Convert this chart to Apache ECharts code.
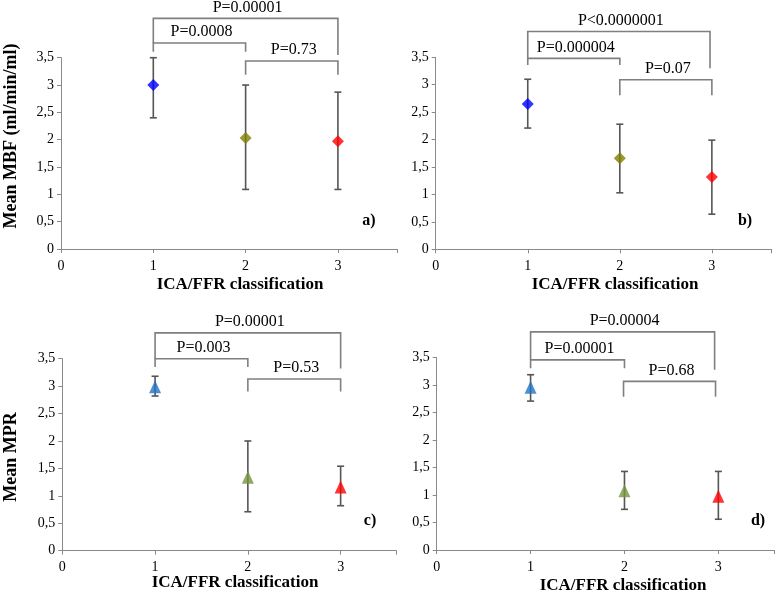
<!DOCTYPE html>
<html>
<head>
<meta charset="utf-8">
<script src="https://cdn.jsdelivr.net/npm/echarts@6/dist/echarts.min.js"></script>
<style>html,body{margin:0;padding:0;background:#fff}#c{width:778px;height:596px}</style>
</head>
<body>
<div id="c"></div>
<script>
// ---- data ----
const classes = [1, 2, 3];
const xTickLabels = ['0', '1', '2', '3'];
const yTickLabels = ['0', '0,5', '1', '1,5', '2', '2,5', '3', '3,5'];

// panel a) Mean MBF
const aMean = [3.00, 2.03, 1.97];
const aLow  = [2.40, 1.09, 1.09];
const aHigh = [3.50, 3.00, 2.87];
// panel b) Mean MBF
const bMean = [2.65, 1.66, 1.32];
const bLow  = [2.21, 1.03, 0.64];
const bHigh = [3.10, 2.28, 1.99];
// panel c) Mean MPR
const cMean = [2.99, 1.34, 1.16];
const cLow  = [2.82, 0.71, 0.82];
const cHigh = [3.18, 2.00, 1.54];
// panel d) Mean MPR
const dMean = [2.96, 1.08, 0.98];
const dLow  = [2.71, 0.74, 0.56];
const dHigh = [3.19, 1.43, 1.43];

// comparison brackets: [from, to, level, dropLeft, dropRight]
const aBrackets = [[1, 3, 4.22, 3.77, 3.55], [1, 2, 3.77, 3.61, 3.61], [2, 3, 3.44, 3.19, 3.19]];
const aPvalues  = ['P=0.00001', 'P=0.0008', 'P=0.73'];
const bBrackets = [[1, 2.98, 3.97, 3.48, 3.30], [1, 2, 3.48, 3.36, 3.36], [2, 3, 3.09, 2.81, 2.81]];
const bPvalues  = ['P<0.0000001', 'P=0.000004', 'P=0.07'];
const cBrackets = [[1, 3, 3.97, 3.50, 3.32], [1, 2, 3.50, 3.35, 3.35], [2, 3, 3.13, 2.90, 2.90]];
const cPvalues  = ['P=0.00001', 'P=0.003', 'P=0.53'];
const dBrackets = [[1, 2.96, 3.97, 3.46, 3.28], [1, 2, 3.46, 3.31, 3.31], [1.99, 2.97, 3.07, 2.79, 2.79]];
const dPvalues  = ['P=0.00004', 'P=0.00001', 'P=0.68'];

const mbfColors = ['#0000FF', '#808000', '#FF0000'];
const mprColors = ['#1F74C4', '#77933C', '#FF0000'];

// ---- build ----
const FONT = "'Liberation Serif', 'Times New Roman', serif";
const grids = [
  {left: 61,    top: 57.7,  width: 336, height: 191.3},
  {left: 435.7, top: 57.3,  width: 336, height: 192},
  {left: 62.3,  top: 358.7, width: 334, height: 192},
  {left: 436.7, top: 357.7, width: 338, height: 192.3}
];
const xMax = [3.64, 3.65, 3.6, 3.6];
const panels = [
  {mean: aMean, low: aLow, high: aHigh, br: aBrackets, p: aPvalues, colors: mbfColors, symbol: 'diamond'},
  {mean: bMean, low: bLow, high: bHigh, br: bBrackets, p: bPvalues, colors: mbfColors, symbol: 'diamond'},
  {mean: cMean, low: cLow, high: cHigh, br: cBrackets, p: cPvalues, colors: mprColors, symbol: 'triangle'},
  {mean: dMean, low: dLow, high: dHigh, br: dBrackets, p: dPvalues, colors: mprColors, symbol: 'triangle'}
];
const axisColor = '#8a8a8a';

const xAxes = grids.map((g, i) => ({
  type: 'value', gridIndex: i, min: 0, max: xMax[i], interval: 1,
  axisLine: {lineStyle: {color: axisColor, width: 1}},
  axisTick: {show: true, length: 4, lineStyle: {color: axisColor}},
  splitLine: {show: false},
  axisLabel: {fontFamily: FONT, fontSize: 14, color: '#000', margin: 10,
    formatter: v => (v <= 3 && Number.isInteger(v)) ? xTickLabels[v] : ''}
}));
const yAxes = grids.map((g, i) => ({
  type: 'value', gridIndex: i, min: 0, max: 3.5, interval: 0.5,
  axisLine: {show: true, lineStyle: {color: axisColor, width: 1}},
  axisTick: {show: true, length: 4, lineStyle: {color: axisColor}},
  splitLine: {show: false},
  axisLabel: {fontFamily: FONT, fontSize: 14, color: '#000', margin: 7,
    formatter: v => yTickLabels[Math.round(v * 2)]}
}));

const series = [];
panels.forEach((p, i) => {
  series.push({
    type: 'custom', xAxisIndex: i, yAxisIndex: i, z: 2, clip: false,
    data: classes.map((x, k) => [x, p.low[k], p.high[k]]),
    renderItem: (params, api) => {
      const x = api.value(0);
      const t = api.coord([x, api.value(2)]);
      const b = api.coord([x, api.value(1)]);
      const w = 3.5;
      const st = {stroke: '#555555', lineWidth: 1.6};
      return {type: 'group', children: [
        {type: 'line', shape: {x1: t[0], y1: t[1], x2: b[0], y2: b[1]}, style: st},
        {type: 'line', shape: {x1: t[0] - w, y1: t[1], x2: t[0] + w, y2: t[1]}, style: st},
        {type: 'line', shape: {x1: b[0] - w, y1: b[1], x2: b[0] + w, y2: b[1]}, style: st}
      ]};
    }
  });
  series.push({
    type: 'scatter', xAxisIndex: i, yAxisIndex: i, z: 5,
    symbol: p.symbol, symbolSize: p.symbol === 'diamond' ? 12 : [12, 13],
    data: classes.map((x, k) => ({value: [x, p.mean[k]], itemStyle: {color: p.colors[k]}}))
  });
  series.push({
    type: 'custom', xAxisIndex: i, yAxisIndex: i, z: 3, clip: false,
    data: p.br.map((b, k) => ({value: b, name: p.p[k]})),
    renderItem: (params, api) => {
      const x1 = api.value(0), x2 = api.value(1), lv = api.value(2), dl = api.value(3), dr = api.value(4);
      const a = api.coord([x1, dl]), b = api.coord([x1, lv]), c = api.coord([x2, lv]), d = api.coord([x2, dr]);
      const label = p.p[params.dataIndex];
      return {type: 'group', children: [
        {type: 'polyline', shape: {points: [a, b, c, d]}, style: {stroke: '#7f7f7f', lineWidth: 1.6, fill: null}},
        {type: 'text', x: (b[0] + c[0]) / 2 + 2, y: b[1] - 3,
          style: {text: label, fontFamily: FONT, fontSize: 16, fill: '#000', align: 'center', verticalAlign: 'bottom'}}
      ]};
    }
  });
});

const titleStyle = {fontFamily: FONT, fontSize: 17, fontWeight: 'bold', fill: '#000', align: 'center', verticalAlign: 'middle'};
const graphic = [
  {type: 'text', x: 240, y: 285, style: Object.assign({text: 'ICA/FFR classification'}, titleStyle)},
  {type: 'text', x: 615, y: 285, style: Object.assign({text: 'ICA/FFR classification'}, titleStyle)},
  {type: 'text', x: 235, y: 583, style: Object.assign({text: 'ICA/FFR classification'}, titleStyle)},
  {type: 'text', x: 623, y: 586, style: Object.assign({text: 'ICA/FFR classification'}, titleStyle)},
  {type: 'text', x: 11, y: 136, rotation: Math.PI / 2, style: Object.assign({text: 'Mean MBF (ml/min/ml)'}, titleStyle, {fontSize: 18})},
  {type: 'text', x: 11, y: 457, rotation: Math.PI / 2, style: Object.assign({text: 'Mean MPR'}, titleStyle, {fontSize: 18})},
  {type: 'text', x: 369, y: 221, style: Object.assign({text: 'a)'}, titleStyle, {fontSize: 16})},
  {type: 'text', x: 745, y: 221, style: Object.assign({text: 'b)'}, titleStyle, {fontSize: 16})},
  {type: 'text', x: 370, y: 521, style: Object.assign({text: 'c)'}, titleStyle, {fontSize: 16})},
  {type: 'text', x: 758, y: 521, style: Object.assign({text: 'd)'}, titleStyle, {fontSize: 16})}
];

const chart = echarts.init(document.getElementById('c'), null, {renderer: 'canvas'});
chart.setOption({
  animation: false,
  backgroundColor: '#fff',
  textStyle: {fontFamily: FONT},
  grid: grids,
  xAxis: xAxes,
  yAxis: yAxes,
  series: series,
  graphic: graphic
});
</script>
</body>
</html>
